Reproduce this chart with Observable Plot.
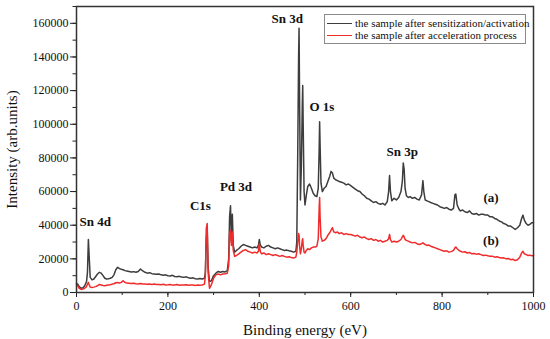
<!DOCTYPE html>
<html>
<head>
<meta charset="utf-8">
<script src="https://cdn.jsdelivr.net/npm/d3@7"></script>
<script src="https://cdn.jsdelivr.net/npm/@observablehq/plot@0.6"></script>
<style>
  body { margin: 0; background: #fff; font-family: "Liberation Serif", "DejaVu Serif"; }
  #wrap { position: relative; width: 550px; height: 339px; }
  #legend { position: absolute; left: 324px; top: 14px; width: 200px; height: 28px; border: 1px solid #8a8a8a; background: #fff; font-size: 11px; color: #111; font-family: "Liberation Serif", "DejaVu Serif"; }
  #legend .row { position: absolute; left: 2px; height: 12px; line-height: 12px; white-space: nowrap; }
  #legend .sw { display: inline-block; width: 25px; height: 0; vertical-align: middle; margin-right: 3px; position: relative; top: -1px; }
</style>
</head>
<body>
<div id="wrap"></div>
<script>
const energy = [0,3,6,10,14,18,22,24,26,28,30,34,38,42,46,50,54,58,62,66,70,74,78,82,86,90,94,98,102,106,110,115,120,125,130,135,140,145,150,155,160,165,170,175,180,185,190,195,200,205,210,215,220,225,230,235,240,245,250,255,260,265,270,275,280,282,284,286,288,291,295,300,305,310,315,320,325,330,333,335,337,339,341,343,346,350,355,360,365,370,375,380,385,390,395,398,400,402,405,410,415,420,425,430,435,440,445,450,455,460,465,470,475,480,482,484,486,487,488,490,492,494,495,496,498,500,503,506,510,514,518,522,526,529,531,532,533,535,538,542,546,550,554,557,560,563,567,571,575,580,585,590,595,600,605,610,615,620,625,630,635,640,645,650,655,660,665,670,675,680,683,685,687,690,695,700,705,710,713,715,717,719,722,726,730,735,740,745,750,755,758,760,763,767,771,775,780,785,790,795,800,805,810,815,820,825,828,830,833,837,840,845,850,855,860,865,870,875,880,885,890,895,900,905,910,915,920,925,930,935,940,945,950,955,960,965,970,974,977,980,984,988,992,996,1000];

// (a) the sample after sensitization/activation
const intensityA = [5500,4800,3500,2500,2800,4000,6500,12000,31500,20000,9000,7500,8000,9500,11000,12000,11500,10000,8500,8000,8200,8500,9000,10500,13500,15000,14200,13800,13500,13000,12800,12500,12200,12400,12000,12500,14000,12800,12000,11500,11800,11200,11000,10800,11000,10500,10200,10500,10000,9800,10200,9500,9300,9600,9200,9000,9300,8800,8500,8700,8200,8000,8300,8000,8500,12000,32000,38000,15000,6500,7000,10000,11500,12500,12000,12500,12200,13000,20000,45000,51500,30000,46500,28000,24000,25000,26000,27500,28500,28000,27500,27000,26500,27000,26500,28000,31500,28500,27000,26500,27500,28000,27000,26500,26000,26500,26000,25500,25000,25200,24800,24500,24000,24500,30000,80000,140000,157000,120000,55000,75000,110000,123000,100000,60000,52000,58000,63000,64500,62000,59000,57500,57000,62000,85000,101500,88000,65000,60000,62000,63000,66000,69000,72000,71000,68000,67000,66500,66000,65500,65000,64000,64500,63500,62500,61500,60500,60000,58500,57500,56000,55500,54500,53500,54000,53000,52500,53000,52000,54000,60000,69500,60000,54500,56000,55000,56500,60000,66000,77000,73000,62000,57500,56500,57000,56000,56500,55500,55000,58000,66500,60000,55000,54500,54000,53500,53000,52500,52000,51000,50500,50000,50500,49500,49000,50000,58000,58500,52000,49500,48500,49000,48000,47500,48500,47000,46500,47000,46000,46500,46500,46000,46000,45000,45000,44000,43500,42500,42000,41000,40500,39500,39500,38500,37500,38500,40000,44000,46000,43000,41000,40000,40500,41500,41500];

// (b) the sample after acceleration process
const intensityB = [4500,4000,2500,1800,2000,2500,3500,5000,6000,4500,3200,3000,3200,3500,4000,4800,4500,4200,4000,4300,4500,4600,5000,5200,5800,5900,5600,6000,7000,6000,5600,5500,5300,5500,5200,5000,5300,5000,5100,4900,5000,4800,5000,4700,4800,4600,4900,4500,4600,4800,4400,4500,4700,4300,4500,4400,4600,4300,4400,4500,4200,4400,4300,4500,5000,10000,38000,41000,12000,2500,4500,8500,10500,11000,10500,11000,11200,11500,16000,35000,37000,28000,36000,25000,21500,22000,23000,24000,25000,25500,24500,24000,23500,24000,23500,24500,29000,24500,23000,23500,22500,23000,22500,22000,22500,22000,21500,22000,21500,21000,21200,20800,20500,21000,24000,30000,35000,34000,28000,23000,26000,31000,32000,28000,24000,23500,25000,26000,25500,26500,27000,27000,27500,32000,50000,56500,45000,33000,30500,31000,32000,34000,35500,37000,38500,36000,35500,36000,35000,35500,34500,35000,34500,34500,34000,33500,34000,33000,32500,33000,32000,31500,32000,31000,31500,30500,31000,30000,30500,31000,32000,34500,31500,30000,30500,30000,30500,31500,33000,34000,33000,31500,31000,30500,30000,29500,29800,29000,28500,29000,29500,29000,28500,28000,28200,27500,27000,26500,26000,25500,25000,24500,24800,24000,24300,25000,26500,27000,26000,25000,24500,24000,24200,23500,23800,23000,23200,22800,23000,22500,22000,22200,21800,21500,21600,21000,21200,20800,20500,20600,20000,20200,19500,19800,19000,19500,21000,23500,24500,23000,22500,22000,22200,21800,22000];

const xTicks = [0, 200, 400, 600, 800, 1000];
const yTicks = [0, 20000, 40000, 60000, 80000, 100000, 120000, 140000, 160000];
const seriesNames = ["the sample after sensitization/activation", "the sample after acceleration process"];

const peakLabels = [
  {text: "Sn 3d", x: 461, y: 162900},
  {text: "O 1s", x: 537, y: 110600},
  {text: "Sn 3p", x: 713, y: 83800},
  {text: "Pd 3d", x: 349, y: 63000},
  {text: "C1s", x: 271, y: 51500},
  {text: "Sn 4d", x: 41, y: 42200},
  {text: "(a)", x: 907, y: 56000},
  {text: "(b)", x: 907, y: 30900}
];

const dataA = energy.map((e, i) => ({e, v: intensityA[i]}));
const dataB = energy.map((e, i) => ({e, v: intensityB[i]}));

const colA = "#3d3d3d";
const colB = "#ef2b2b";
const font = "Liberation Serif, DejaVu Serif";

const chart = Plot.plot({
  width: 550,
  height: 339,
  marginLeft: 76,
  marginRight: 17,
  marginTop: 6,
  marginBottom: 47,
  style: {fontFamily: font, fontSize: "12px", color: "#111", background: "#fff"},
  x: {domain: [0, 1000]},
  y: {domain: [0, 170000]},
  marks: [
    Plot.axisY({ticks: d3.range(0, 170001, 10000), tickSize: 3.5, text: null, label: null, stroke: "#222"}),
    Plot.axisY({ticks: yTicks, tickSize: 6, tickPadding: 2, tickFormat: d => String(d), fontSize: 12, label: "Intensity (arb.units)", labelAnchor: "center", labelArrow: "none", labelOffset: 70, stroke: "#222"}),
    Plot.axisX({ticks: d3.range(0, 1001, 100), tickSize: 3, text: null, label: null, stroke: "#222"}),
    Plot.axisX({ticks: xTicks, tickSize: 5, tickPadding: 4, tickFormat: d => String(d), fontSize: 12, label: "Binding energy (eV)", labelAnchor: "center", labelArrow: "none", labelOffset: 42, stroke: "#222"}),
    Plot.line(dataA, {x: "e", y: "v", stroke: colA, strokeWidth: 1.5}),
    Plot.line(dataB, {x: "e", y: "v", stroke: colB, strokeWidth: 1.5}),
    Plot.text(peakLabels, {x: "x", y: "y", text: "text", fontWeight: "bold", fontSize: 13, fill: "#111", textAnchor: "middle", lineAnchor: "middle"}),
    Plot.frame({stroke: "#333", strokeWidth: 1.5})
  ]
});

d3.select(chart).selectAll("[aria-label='y-axis label'], [aria-label='x-axis label']").attr("font-size", 15);
d3.select(chart).selectAll("text").attr("font-family", font);

const wrap = document.getElementById("wrap");
wrap.appendChild(chart);

const legend = document.createElement("div");
legend.id = "legend";
[[seriesNames[0], colA, 2], [seriesNames[1], colB, 14]].forEach(([name, col, top]) => {
  const row = document.createElement("div");
  row.className = "row";
  row.style.top = top + "px";
  const sw = document.createElement("span");
  sw.className = "sw";
  sw.style.borderTop = "1.5px solid " + col;
  row.appendChild(sw);
  row.appendChild(document.createTextNode(name));
  legend.appendChild(row);
});
wrap.appendChild(legend);
</script>
</body>
</html>
